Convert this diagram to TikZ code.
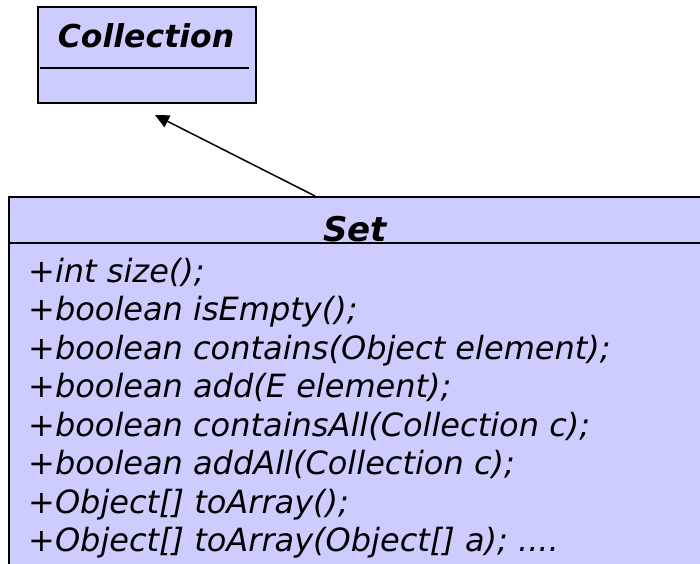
\documentclass[tikz,border=0pt]{standalone}
\usepackage{fontspec}
\setmainfont{DejaVu Sans}
\usetikzlibrary{arrows.meta,positioning}
\definecolor{umlfill}{HTML}{CCCCFF}
\tikzset{
  umlclass/.style={draw,fill=umlfill,line width=1.5pt,inner sep=0pt,anchor=north west},
  umltitle/.style={anchor=base,inner sep=0pt,font=\fontsize{#1}{#1}\selectfont\bfseries\itshape},
  umlop/.style={anchor=base west,inner sep=0pt,font=\fontsize{32}{36}\selectfont\itshape},
  inherit/.style={line width=1.5pt,-{Triangle[length=14pt,width=13pt]}}
}

\begin{document}
\begin{tikzpicture}[x=1pt,y=-1pt]
  \useasboundingbox (0,0) rectangle (700,563);
  % interface Collection
  \node[umlclass,minimum width=218pt,minimum height=96pt] (coll) at (37,6) {};
  \node[umltitle=31.5] (colltitle) at (146,47) {Collection};
  \draw[line width=1.5pt] (40,68) -- (249,68);
  % interface Set, runs off the page
  \node[umlclass,minimum width=694pt,minimum height=420pt] (set) at (8,196) {};
  \node[umltitle=34] (settitle) at (355,241) {Set};
  \draw[line width=1.5pt] (8,243) -- (702,243);
  \node[umlop] (op0) at (28,282) {+int size();};
  \node[umlop] (op1) at (28,320.5) {+boolean isEmpty();};
  \node[umlop] (op2) at (28,359) {+boolean contains(Object element);};
  \node[umlop] (op3) at (28,397.5) {+boolean add(E element);};
  \node[umlop] (op4) at (28,436) {+boolean containsAll(Collection c);};
  \node[umlop] (op5) at (28,474.5) {+boolean addAll(Collection c);};
  \node[umlop] (op6) at (28,513) {+Object[] toArray();};
  \node[umlop] (op7) at (28,551.5) {+Object[] toArray(Object[] a); ....};
  % generalisation
  \coordinate (setapex) at (315,196);
  \coordinate (colltip) at (155,115);
  \draw[inherit] (setapex) -- (colltip);
\end{tikzpicture}
\end{document}
